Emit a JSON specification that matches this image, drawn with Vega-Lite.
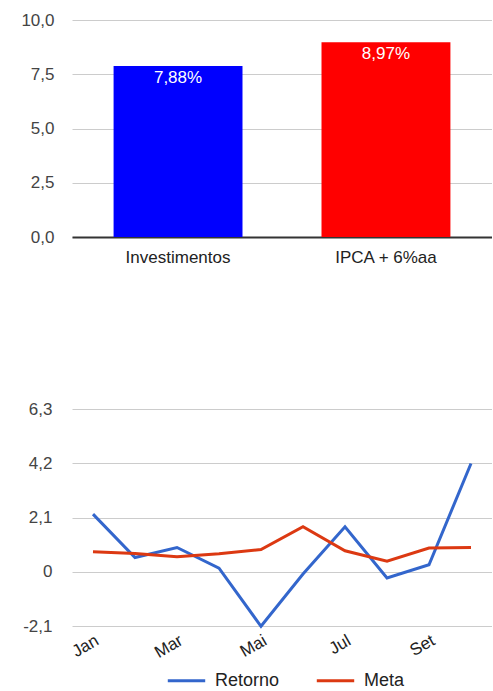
{
  "$schema": "https://vega.github.io/schema/vega-lite/v6.json",
  "padding": {"left": 20, "top": 11, "right": 0, "bottom": 0},
  "datasets": {
    "barras": [
      {"categoria": "Investimentos", "valor": 7.88},
      {"categoria": "IPCA + 6%aa", "valor": 8.97}
    ],
    "mensal": [
      {"mes": "Jan", "serie": "Retorno", "valor": 2.23},
      {"mes": "Fev", "serie": "Retorno", "valor": 0.55},
      {"mes": "Mar", "serie": "Retorno", "valor": 0.94},
      {"mes": "Abr", "serie": "Retorno", "valor": 0.14},
      {"mes": "Mai", "serie": "Retorno", "valor": -2.11},
      {"mes": "Jun", "serie": "Retorno", "valor": -0.09},
      {"mes": "Jul", "serie": "Retorno", "valor": 1.74},
      {"mes": "Ago", "serie": "Retorno", "valor": -0.24},
      {"mes": "Set", "serie": "Retorno", "valor": 0.27},
      {"mes": "Out", "serie": "Retorno", "valor": 4.19},
      {"mes": "Jan", "serie": "Meta", "valor": 0.77},
      {"mes": "Fev", "serie": "Meta", "valor": 0.71},
      {"mes": "Mar", "serie": "Meta", "valor": 0.58},
      {"mes": "Abr", "serie": "Meta", "valor": 0.70},
      {"mes": "Mai", "serie": "Meta", "valor": 0.86},
      {"mes": "Jun", "serie": "Meta", "valor": 1.74},
      {"mes": "Jul", "serie": "Meta", "valor": 0.81},
      {"mes": "Ago", "serie": "Meta", "valor": 0.41},
      {"mes": "Set", "serie": "Meta", "valor": 0.92},
      {"mes": "Out", "serie": "Meta", "valor": 0.94}
    ]
  },
  "config": {
    "font": "Liberation Sans",
    "view": {"stroke": null},
    "axis": {"labelFont": "Liberation Sans", "labelFontSize": 17, "ticks": false, "gridColor": "#cccccc", "title": null},
    "concat": {"spacing": 135}
  },
  "resolve": {"scale": {"color": "independent"}, "legend": {"color": "independent"}},
  "vconcat": [
    {
      "width": 420,
      "height": 217,
      "data": {"name": "barras"},
      "transform": [
        {"calculate": "replace(format(datum.valor, '.2f'), '.', ',') + '%'", "as": "rotulo"}
      ],
      "encoding": {
        "x": {
          "field": "categoria", "type": "nominal", "sort": null,
          "scale": {"paddingInner": 0.38, "paddingOuter": 0.2},
          "axis": {"labelAngle": 0, "labelColor": "#222222", "labelPadding": 12, "domainColor": "#333333", "domainWidth": 2, "grid": false}
        },
        "y": {
          "field": "valor", "type": "quantitative",
          "scale": {"domain": [0, 10]},
          "axis": {"values": [0, 2.5, 5, 7.5, 10], "labelExpr": "replace(format(datum.value, '.1f'), '.', ',')", "labelColor": "#444444", "labelPadding": 18, "domain": false}
        }
      },
      "layer": [
        {
          "mark": {"type": "bar"},
          "encoding": {
            "color": {"field": "categoria", "type": "nominal", "scale": {"domain": ["Investimentos", "IPCA + 6%aa"], "range": ["#0000ff", "#ff0000"]}, "legend": null}
          }
        },
        {
          "mark": {"type": "text", "baseline": "top", "dy": 4, "color": "#ffffff", "fontSize": 17, "font": "Liberation Sans"},
          "encoding": {"text": {"field": "rotulo"}}
        }
      ]
    },
    {
      "width": 420,
      "height": 217,
      "layer": [
        {
          "data": {"name": "mensal"},
          "mark": {"type": "line", "strokeWidth": 3},
          "encoding": {
            "x": {
              "field": "mes", "type": "ordinal", "sort": null,
              "scale": {"type": "point", "padding": 0.5},
              "axis": {"values": ["Jan", "Mar", "Mai", "Jul", "Set"], "labelAngle": -30, "labelColor": "#222222", "labelPadding": 6, "domain": false, "grid": false}
            },
            "y": {
              "field": "valor", "type": "quantitative",
              "scale": {"domain": [-2.1, 6.3], "nice": false},
              "axis": {"values": [-2.1, 0, 2.1, 4.2, 6.3], "labelExpr": "datum.value == 0 ? '0' : replace(replace(format(datum.value, '.1f'), '.', ','), '\u2212', '-')", "labelColor": "#444444", "labelPadding": 20, "domain": false}
            },
            "color": {
              "field": "serie", "type": "nominal",
              "scale": {"domain": ["Retorno", "Meta"], "range": ["#3366cc", "#dc3912"]},
              "legend": {
                "title": null, "orient": "none", "direction": "horizontal",
                "legendX": 94, "legendY": 251,
                "symbolType": "stroke", "symbolStrokeWidth": 3, "symbolSize": 1400,
                "labelFontSize": 18, "labelColor": "#222222", "labelFont": "Liberation Sans",
                "labelOffset": 8, "columnPadding": 30
              }
            }
          }
        },
        {
          "mark": {"type": "rule", "color": "#333333", "strokeWidth": 2},
          "encoding": {"y": {"datum": 0}}
        }
      ]
    }
  ]
}
